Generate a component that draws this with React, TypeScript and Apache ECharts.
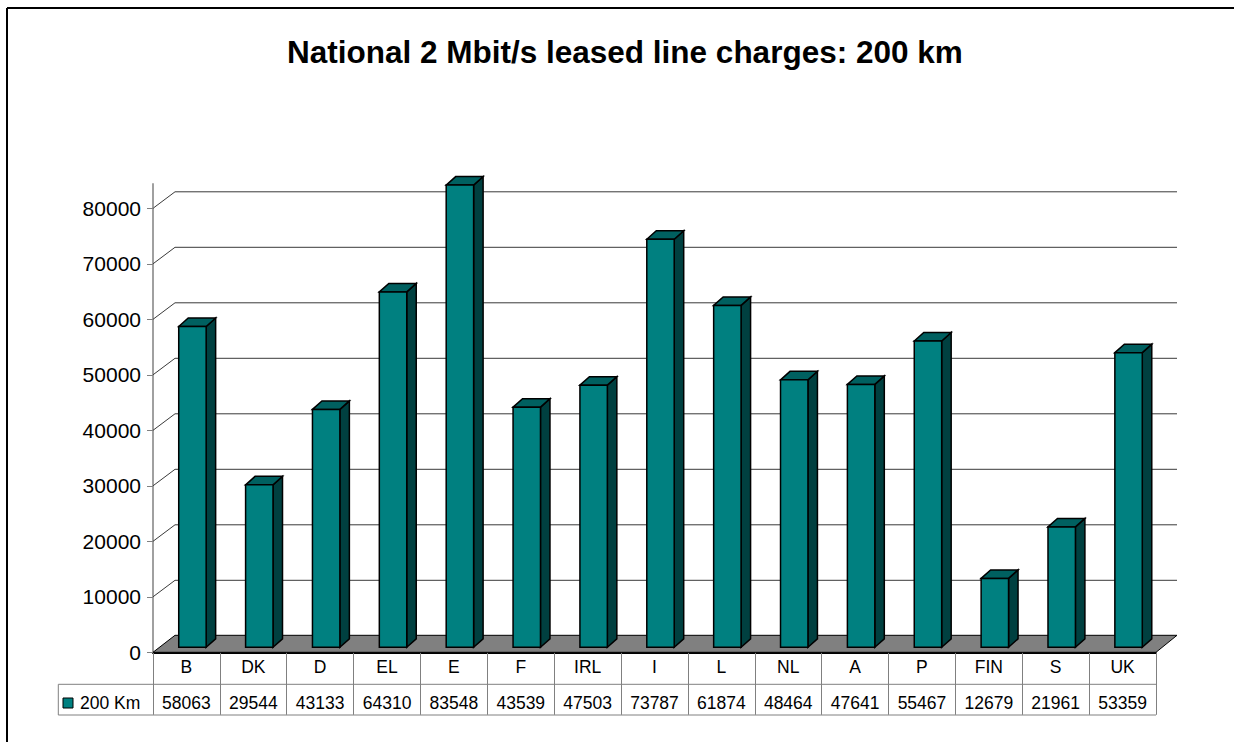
import React, { useEffect, useRef } from "react";
import * as echarts from "echarts";

const titleText = "National 2 Mbit/s leased line charges: 200 km";
const seriesName = "200 Km";
const categories = ["B", "DK", "D", "EL", "E", "F", "IRL", "I", "L", "NL", "A", "P", "FIN", "S", "UK"];
const values200km = [58063, 29544, 43133, 64310, 83548, 43539, 47503, 73787, 61874, 48464, 47641, 55467, 12679, 21961, 53359];
const yTicks = [0, 10000, 20000, 30000, 40000, 50000, 60000, 70000, 80000];

const FONT = "'Liberation Sans', Arial, sans-serif";

export default function App() {
  const ref = useRef<HTMLDivElement>(null);
  useEffect(() => {
    document.body.style.margin = "0";
    document.body.style.overflow = "hidden";
    if (!ref.current) return;
    const chart = echarts.init(ref.current, null, { renderer: "svg" });
    const yMax = yTicks[yTicks.length - 1];
    const option: any = {
      animation: false,
      backgroundColor: "#ffffff",
      textStyle: { fontFamily: FONT },
      title: {
        text: titleText,
        left: 287,
        top: 36,
        padding: 0,
        textStyle: { fontSize: 31.5, fontWeight: "bold", color: "#000", fontFamily: FONT },
      },
      legend: {
        data: [{ name: seriesName, icon: "rect" }],
        left: 62.5,
        top: 694,
        padding: 0,
        itemWidth: 10,
        itemHeight: 10,
        selectedMode: false,
        itemStyle: { color: "#008080", borderColor: "#000", borderWidth: 1 },
        textStyle: { fontSize: 17.5, color: "#000", fontFamily: FONT, padding: [0, 0, 0, 2] },
      },
      grid: { left: 153, right: 78, top: 208.3, bottom: 89.7, containLabel: false, outerBoundsMode: "none" },
      xAxis: [
        {
          type: "category",
          data: categories,
          boundaryGap: true,
          axisLine: { show: true, lineStyle: { color: "#000", width: 2 } },
          axisTick: { show: true, length: 62.5, interval: 0, lineStyle: { color: "#808080", width: 1 } },
          axisLabel: { interval: 0, fontSize: 17.5, color: "#000", margin: 15, verticalAlign: "middle", fontFamily: FONT },
          splitLine: { show: false },
        },
        {
          type: "category",
          data: values200km.map((v) => String(v)),
          position: "bottom",
          boundaryGap: true,
          axisLine: { show: false },
          axisTick: { show: false },
          axisLabel: { interval: 0, fontSize: 17.5, color: "#000", margin: 50.5, verticalAlign: "middle", fontFamily: FONT },
          splitLine: { show: false },
        },
      ],
      yAxis: {
        type: "value",
        min: 0,
        max: yMax,
        interval: 10000,
        axisLine: { show: true, lineStyle: { color: "#808080", width: 1.5 } },
        axisTick: { show: true, length: 6, lineStyle: { color: "#808080", width: 1 } },
        axisLabel: { fontSize: 21, color: "#000", margin: 12, fontFamily: FONT, formatter: (v: number) => String(v) },
        splitLine: { show: false },
      },
      graphic: [
        {
          type: "line",
          shape: { x1: 7, y1: 8, x2: 7, y2: 742 },
          style: { stroke: "#000", lineWidth: 2 },
          silent: true,
        },
        {
          type: "line",
          shape: { x1: 7, y1: 8, x2: 1234, y2: 8 },
          style: { stroke: "#000", lineWidth: 2 },
          silent: true,
        },
        {
          type: "polyline",
          shape: { points: [[58.3, 684.3], [1156, 684.3]] },
          style: { stroke: "#808080", lineWidth: 1, fill: "none" },
          silent: true,
        },
        {
          type: "polyline",
          shape: { points: [[58.3, 684.3], [58.3, 715], [1156, 715]] },
          style: { stroke: "#808080", lineWidth: 1, fill: "none" },
          silent: true,
        },
      ],
      series: [
        {
          type: "custom",
          name: "walls",
          silent: true,
          xAxisIndex: 0,
          yAxisIndex: 0,
          data: yTicks.map((v) => [0, v]),
          encode: { x: 0, y: 1 },
          renderItem: (params: any, api: any) => {
            const cs = params.coordSys;
            const left = cs.x;
            const right = cs.x + cs.width;
            const v = api.value(1);
            const y = api.coord([0, v])[1];
            const children: any[] = [];
            if (v === 0) {
              children.push({
                type: "polygon",
                shape: { points: [[left, y], [right, y], [right + 21, y - 17], [left + 22, y - 17]] },
                style: { fill: "#808080", stroke: "#000", lineWidth: 1 },
              });
            } else {
              children.push({
                type: "polyline",
                shape: { points: [[left, y], [left + 22, y - 16.5], [right + 21, y - 16.5]] },
                style: { stroke: "#3a3a3a", lineWidth: 1, fill: "none" },
              });
            }
            if (v === yMax) {
              children.push({
                type: "line",
                shape: { x1: left, y1: y, x2: left, y2: y - 25 },
                style: { stroke: "#808080", lineWidth: 1.5 },
              });
            }
            return { type: "group", children };
          },
          z: 1,
        },
        {
          type: "custom",
          name: seriesName,
          xAxisIndex: 0,
          yAxisIndex: 0,
          itemStyle: { color: "#008080" },
          data: values200km.map((v, i) => [i, v]),
          encode: { x: 0, y: 1 },
          renderItem: (params: any, api: any) => {
            const idx = api.value(0);
            const val = api.value(1);
            const top = api.coord([idx, val]);
            const base = api.coord([idx, 0]);
            const band = api.size([1, 0])[0];
            const w = band * 0.41;
            const x0 = top[0] + 6 - w / 2;
            const x1 = x0 + w;
            const yt = top[1] - 3.5;
            const yb = base[1] - 5;
            const dx = 9.5;
            const dy = 8.5;
            return {
              type: "group",
              children: [
                {
                  type: "polygon",
                  shape: { points: [[x1, yb], [x1 + dx, yb - dy], [x1 + dx, yt - dy], [x1, yt]] },
                  style: { fill: "#004040", stroke: "#000", lineWidth: 1.5 },
                },
                {
                  type: "polygon",
                  shape: { points: [[x0, yt], [x0 + dx, yt - dy], [x1 + dx, yt - dy], [x1, yt]] },
                  style: { fill: "#006060", stroke: "#000", lineWidth: 1.5 },
                },
                {
                  type: "rect",
                  shape: { x: x0, y: yt, width: w, height: yb - yt },
                  style: { fill: "#008080", stroke: "#000", lineWidth: 1.5 },
                },
              ],
            };
          },
          z: 3,
        },
      ],
    };
    chart.setOption(option);
    return () => chart.dispose();
  }, []);
  return <div ref={ref} style={{ width: 1234, height: 742 }} />;
}
